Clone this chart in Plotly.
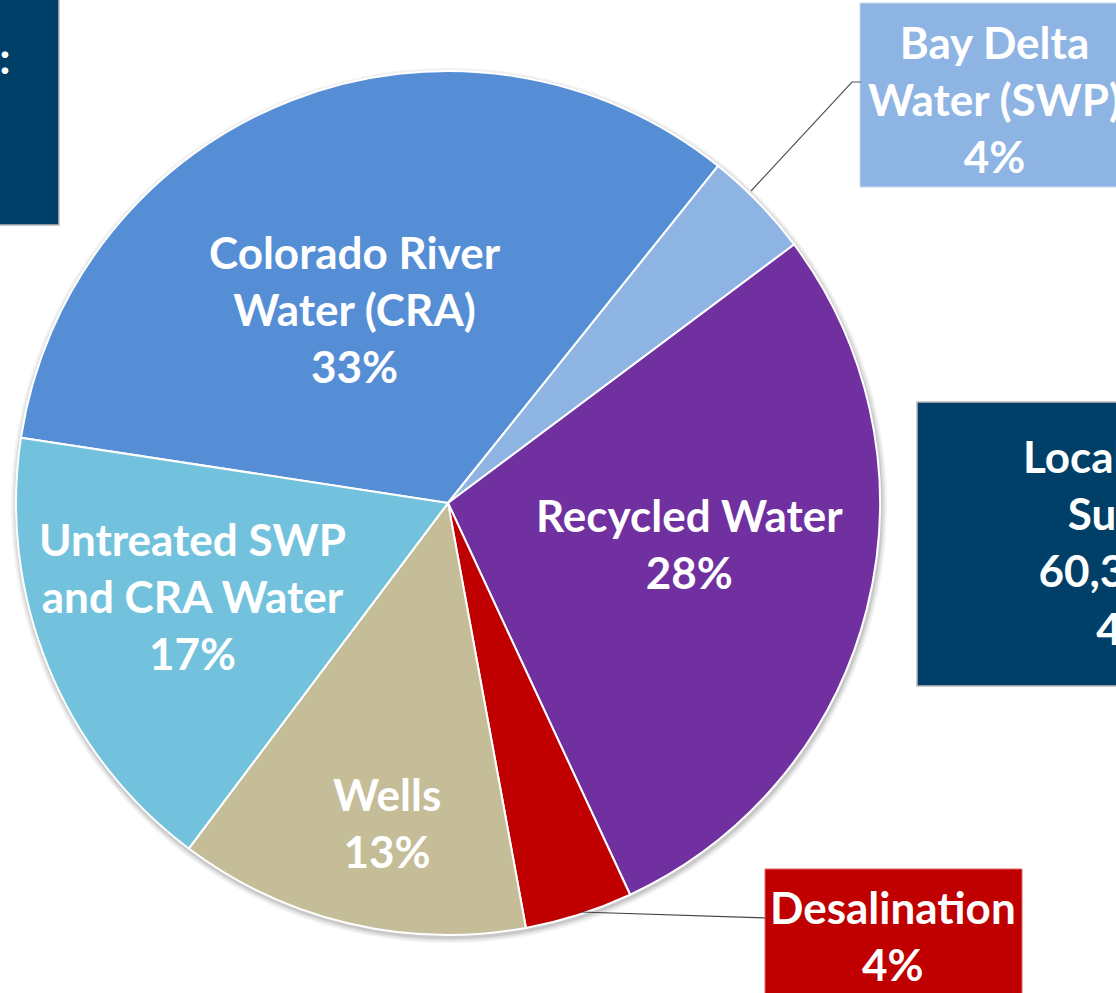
import plotly.graph_objects as go

W, H = 1116, 993

# ---- data ----
labels = ["Colorado River<br>Water (CRA)", "Bay Delta<br>Water (SWP)", "Recycled Water",
          "Desalination", "Wells", "Untreated SWP<br>and CRA Water"]
values = [33, 4, 28, 4, 13, 17]
colors = ["#558ED5", "#8EB4E3", "#7030A0", "#C00000", "#C4BD97", "#73C2DD"]
local_lines = ["Local Water", "Supply:", "60,300 AF", "45%"]
imported_lines = ["Imported Supply:"]

NAVY = "#003F68"
FONT = "Lato, 'Carlito', sans-serif"


def fx(px):
    return px / W


def fy(py):
    return 1 - py / H


cx, cy, r = 448, 503, 432

fig = go.Figure()
fig.add_trace(go.Pie(
    labels=labels, values=values, sort=False, direction="clockwise",
    rotation=-81.3,
    marker=dict(colors=colors, line=dict(color="white", width=2)),
    textinfo="none", hoverinfo="label+percent", showlegend=False,
    domain=dict(x=[fx(cx - r), fx(cx + r)], y=[fy(cy + r), fy(cy - r)]),
))

shapes = []
annotations = []

# soft shadow behind the pie
for d, a in [(6, 0.05), (4, 0.07), (2, 0.10)]:
    shapes.append(dict(type="circle", xref="paper", yref="paper",
                       x0=fx(cx - r - d + 1), x1=fx(cx + r + d + 1),
                       y0=fy(cy + r + d + 2), y1=fy(cy - r - d + 3),
                       fillcolor=f"rgba(0,0,0,{a})", line=dict(width=0), layer="below"))

# label positions (pixel centres) for in-slice labels
inside_pos = {0: (355, 309), 2: (689, 543), 4: (387, 822), 5: (192, 596)}
for i, (x, y) in inside_pos.items():
    annotations.append(dict(
        x=fx(x), y=fy(y), xref="paper", yref="paper", showarrow=False,
        text=f"<b>{labels[i]}<br>{values[i]}%</b>", align="center",
        font=dict(family=FONT, size=44, color="white"),
        xanchor="center", yanchor="middle"))

# Bay Delta callout
shapes.append(dict(type="rect", xref="paper", yref="paper",
                   x0=fx(860), x1=fx(1130), y0=fy(187), y1=fy(3),
                   fillcolor=colors[1], line=dict(color="#c9d9ee", width=1), layer="above"))
annotations.append(dict(x=fx(994), y=fy(99), xref="paper", yref="paper", showarrow=False,
                        text=f"<b>{labels[1]}<br>{values[1]}%</b>", align="center",
                        font=dict(family=FONT, size=44, color="white"),
                        xanchor="center", yanchor="middle"))
shapes.append(dict(type="path", xref="paper", yref="paper",
                   path=f"M {fx(751)},{fy(191)} L {fx(852)},{fy(82)} L {fx(861)},{fy(82)}",
                   line=dict(color="#555555", width=1.2), layer="above"))

# Desalination callout
shapes.append(dict(type="rect", xref="paper", yref="paper",
                   x0=fx(765), x1=fx(1022), y0=fy(1000), y1=fy(869),
                   fillcolor=colors[3], line=dict(color="#d66", width=1), layer="above"))
annotations.append(dict(x=fx(893), y=fy(935), xref="paper", yref="paper", showarrow=False,
                        text=f"<b>{labels[3]}<br>{values[3]}%</b>", align="center",
                        font=dict(family=FONT, size=44, color="white"),
                        xanchor="center", yanchor="middle"))
shapes.append(dict(type="path", xref="paper", yref="paper",
                   path=f"M {fx(580)},{fy(912)} L {fx(765)},{fy(918)}",
                   line=dict(color="#444444", width=1.2), layer="above"))

# navy summary boxes
shapes.append(dict(type="rect", xref="paper", yref="paper",
                   x0=fx(-20), x1=fx(59), y0=fy(225), y1=fy(-5),
                   fillcolor=NAVY, line=dict(color="#bbbbbb", width=1.5), layer="above"))
annotations.append(dict(x=fx(13), y=fy(57), xref="paper", yref="paper", showarrow=False,
                        text="<b>" + "<br>".join(imported_lines) + "</b>",
                        font=dict(family=FONT, size=44, color="white"),
                        xanchor="right", yanchor="middle"))
shapes.append(dict(type="rect", xref="paper", yref="paper",
                   x0=fx(917), x1=fx(1130), y0=fy(686), y1=fy(402),
                   fillcolor=NAVY, line=dict(color="#bbbbbb", width=1.5), layer="above"))
annotations.append(dict(x=fx(1140), y=fy(542), xref="paper", yref="paper", showarrow=False,
                        text="<b>" + "<br>".join(local_lines) + "</b>", align="center",
                        font=dict(family=FONT, size=44, color="white"),
                        xanchor="center", yanchor="middle"))

fig.update_layout(
    width=W, height=H, autosize=False,
    margin=dict(l=0, r=0, t=0, b=0),
    paper_bgcolor="white", plot_bgcolor="white",
    shapes=shapes, annotations=annotations,
)

fig.write_html("out.html", config={"displayModeBar": False},
               post_script="document.body.style.margin='0';document.body.style.overflow='hidden';")
